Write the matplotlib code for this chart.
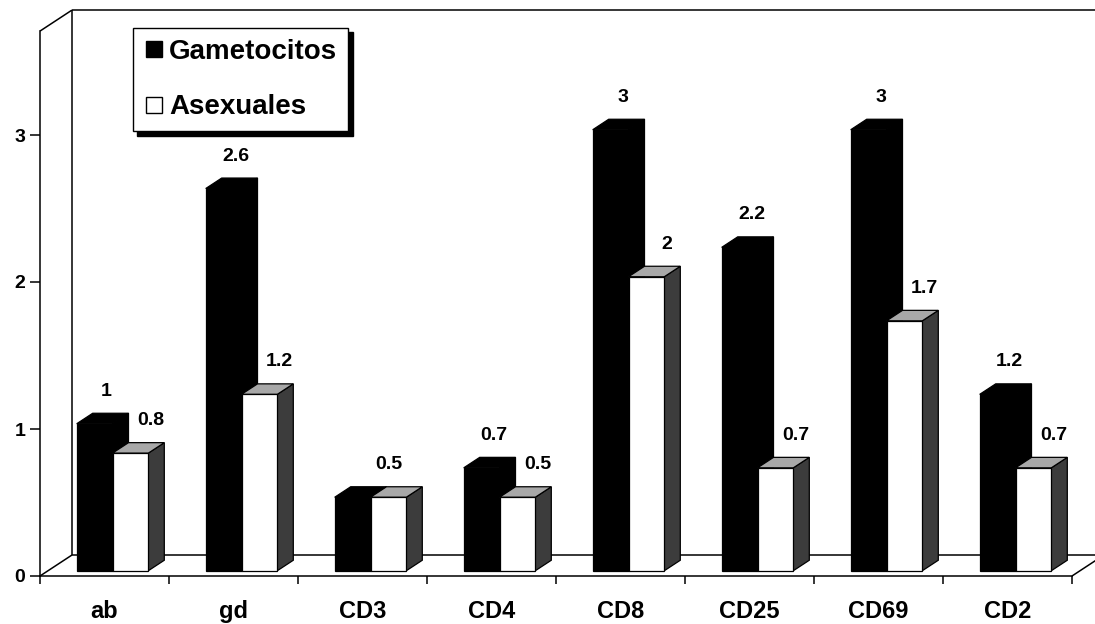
import matplotlib.pyplot as plt
from matplotlib.lines import Line2D

categories = ['ab', 'gd', 'CD3', 'CD4', 'CD8', 'CD25', 'CD69', 'CD2']
gametocitos = [1, 2.6, 0.5, 0.7, 3, 2.2, 3, 1.2]
asexuales = [0.8, 1.2, 0.5, 0.5, 2, 0.7, 1.7, 0.7]
series_names = ['Gametocitos', 'Asexuales']
yticks = [0, 1, 2, 3]

plt.rcParams['font.family'] = ['Liberation Sans', 'DejaVu Sans']
plt.rcParams['font.weight'] = 'bold'

W, H = 1095, 624
fig = plt.figure(figsize=(W / 100, H / 100), dpi=100)
ax = fig.add_axes([0, 0, 1, 1])

# pixel layout of the front plane: origin, px per category, px per unit
x0_px, y0_px = 40, 576
cat_px, unit_px = 129, 147
ax.set_xlim(-x0_px / cat_px, (W - x0_px) / cat_px)
ax.set_ylim(-(H - y0_px) / unit_px, y0_px / unit_px)

# oblique depth of the floor in data units
DX, DY = 32 / cat_px, 21 / unit_px
ymax = 3.707
n = len(categories)
lw = 1.1


def at(x, y, d):
    return x + d * DX, y + d * DY


def seg(p, q):
    ax.plot([p[0], q[0]], [p[1], q[1]], color='black', lw=lw,
            solid_capstyle='butt', zorder=1)


# side wall, back wall and floor outline
seg(at(0, ymax, 0), at(0, ymax, 1))
seg(at(0, 0, 1), at(0, ymax, 1))
seg(at(0, ymax, 1), (ax.get_xlim()[1], ymax + DY))
seg(at(0, 0, 0), at(0, 0, 1))
seg(at(0, 0, 1), at(n, 0, 1))
seg(at(n, 0, 0), at(n, 0, 1))


def draw_bar(xl, width, value, front, side, top):
    xr = xl + width
    d0, d1 = 0.25, 0.75
    faces = [
        ([at(xr, 0, d0), at(xr, 0, d1), at(xr, value, d1), at(xr, value, d0)], side),
        ([at(xl, value, d0), at(xr, value, d0), at(xr, value, d1), at(xl, value, d1)], top),
        ([at(xl, 0, d0), at(xr, 0, d0), at(xr, value, d0), at(xl, value, d0)], front),
    ]
    for poly, fc in faces:
        xs, ys = zip(*poly)
        ax.fill(xs, ys, facecolor=fc, edgecolor='black', linewidth=0.9, zorder=3)


bar_w = 0.2775
start = 0.2225
label_dy = 22 / unit_px
label_dx = (12 / cat_px, 20 / cat_px)
for i in range(n):
    g, a = gametocitos[i], asexuales[i]
    draw_bar(i + start, bar_w, g, 'black', 'black', 'black')
    draw_bar(i + start + bar_w, bar_w, a, 'white', '#3c3c3c', '#a8a8a8')
    for k, v in enumerate((g, a)):
        # equal pairs share one label
        if k == 0 and g == a:
            continue
        cx, _ = at(i + start + bar_w * (k + 0.5), v, 0.25)
        _, cy = at(0, v, 0.75)
        dx = 0 if g == a else label_dx[k]
        ax.text(cx + dx, cy + label_dy, f'{v:g}', ha='center',
                va='center', fontsize=14, fontweight='bold', zorder=4)

# axes: front vertical axis and front floor edge
for s in ('top', 'right'):
    ax.spines[s].set_visible(False)
ax.spines['left'].set_position(('data', 0))
ax.spines['left'].set_bounds(0, ymax)
ax.spines['bottom'].set_position(('data', 0))
ax.spines['bottom'].set_bounds(0, n)
for s in ('left', 'bottom'):
    ax.spines[s].set_linewidth(lw)

ax.set_yticks(yticks)
ax.set_yticklabels([str(t) for t in yticks])
ax.tick_params(axis='y', direction='out', length=7, width=lw, pad=3.5,
               labelsize=14)
ax.set_xticks(range(n + 1))
ax.set_xticklabels([])
ax.set_xticks([i + 0.5 for i in range(n)], minor=True)
ax.set_xticklabels(categories, minor=True)
ax.tick_params(axis='x', which='major', direction='out', length=6, width=lw)
ax.tick_params(axis='x', which='minor', length=0, pad=17, labelsize=17)

handles = [
    Line2D([], [], marker='s', ls='none', markersize=11.5,
           markerfacecolor='black', markeredgecolor='black'),
    Line2D([], [], marker='s', ls='none', markersize=11.5,
           markerfacecolor='white', markeredgecolor='black', markeredgewidth=1),
]
leg = ax.legend(handles, series_names, loc='upper left',
                bbox_to_anchor=(133 / W, 1 - 28 / H), borderaxespad=0,
                prop={'size': 20, 'weight': 'bold'}, fancybox=False,
                edgecolor='black', framealpha=1, handlelength=0.7,
                handletextpad=0.2, labelspacing=1.05, borderpad=0.4,
                shadow={'color': 'black', 'alpha': 1, 'ox': 3, 'oy': -3})
leg.get_frame().set_linewidth(1.0)
leg.set_zorder(5)

fig.savefig('out.png', dpi=100)
